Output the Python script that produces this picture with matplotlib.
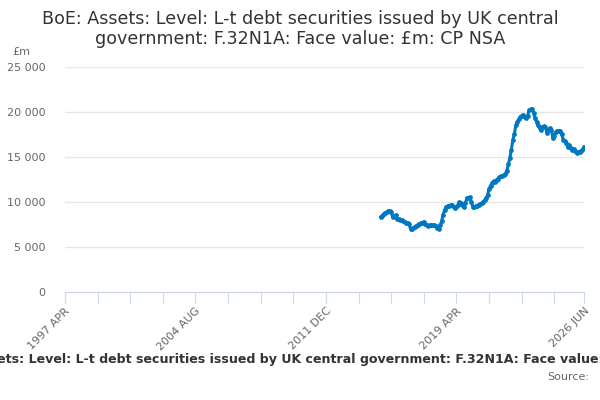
import numpy as np
import matplotlib.pyplot as plt

# monthly values, 2015 JAN .. 2026 JUN, £m
start_year = 2015
start_month = 1
values = [
    8360, 8500, 8700, 8800, 8900, 9000, 8950, 8900, 8300, 8400, 8550, 8150,
    8100, 8000, 7950, 7900, 7800, 7700, 7650, 7600, 7000, 7050, 7150, 7250,
    7350, 7500, 7550, 7650, 7700, 7800, 7600, 7400, 7350, 7400, 7450, 7430,
    7400, 7320, 7100, 7050, 7400, 7900, 8600, 9100, 9450, 9550, 9600, 9650,
    9670, 9500, 9300, 9400, 9700, 10000, 9900, 9700, 9480, 9900, 10400, 10500,
    10520, 10000, 9500, 9480, 9550, 9600, 9700, 9800, 9850, 10000, 10200, 10400,
    10800, 11500, 11800, 12100, 12300, 12250, 12450, 12600, 12750, 12850, 12900, 13000,
    13120, 13500, 14200, 14900, 15800, 16900, 17500, 18500, 18900, 19200, 19400, 19600,
    19700, 19400, 19350, 19600, 20200, 20300, 20300, 19900, 19300, 18900, 18500, 18200,
    18050, 18350, 18400, 18300, 17700, 18000, 18200, 18050, 17100, 17300, 17800, 17900,
    17900, 17850, 17500, 16900, 16750, 16500, 16150, 16350, 16000, 15750, 15850, 15700,
    15450, 15500, 15600, 15700, 15850, 16100,
]

# axis runs 1997 APR .. 2026 JUN
axis_start = (1997, 4)
axis_end = (2026, 6)
tick_step = 22
label_every = 4
y_ticks = [0, 5000, 10000, 15000, 20000, 25000]

title = "BoE: Assets: Level: L-t debt securities issued by UK central\ngovernment: F.32N1A: Face value: £m: CP NSA"
footer = "BoE: Assets: Level: L-t debt securities issued by UK central government: F.32N1A: Face value: £m: CP NSA"

months = ['JAN', 'FEB', 'MAR', 'APR', 'MAY', 'JUN', 'JUL', 'AUG', 'SEP', 'OCT', 'NOV', 'DEC']

def idx(y, m):
    return (y - axis_start[0]) * 12 + (m - axis_start[1])

def label(i):
    total = axis_start[0] * 12 + axis_start[1] - 1 + i
    return f"{total // 12} {months[total % 12]}"

x0 = idx(start_year, start_month)
x = np.arange(x0, x0 + len(values))
end = idx(*axis_end)

fig = plt.figure(figsize=(6, 4), dpi=100)
ax = fig.add_axes([65/600, 108/400, 519/600, 225/400])

ax.plot(x, values, color='#0077c0', lw=2.2, marker='o', ms=2.4, zorder=3)

ax.set_xlim(0, end)
ax.set_ylim(0, 25000)

ticks = list(range(0, end, tick_step)) + [end]
ax.set_xticks(ticks)
labs = []
for k, t in enumerate(ticks):
    if t == end or k % label_every == 0:
        labs.append(label(t))
    else:
        labs.append('')
ax.set_xticklabels(labs, rotation=45, ha='right', rotation_mode='anchor',
                   fontsize=8, color='#666666')
ax.tick_params(axis='x', length=8, color='#ccd6eb', pad=2)

ax.set_yticks(y_ticks)
ax.set_yticklabels([f"{v:,}".replace(',', ' ') for v in y_ticks], fontsize=8, color='#666666')
ax.tick_params(axis='y', length=0, pad=14)
ax.grid(axis='y', color='#e6e6e6', lw=1)
ax.set_axisbelow(True)

for s in ['top', 'right', 'left']:
    ax.spines[s].set_visible(False)
ax.spines['bottom'].set_color('#ccd6eb')

fig.text(12/600, 1 - 52/400, '£m', fontsize=8, color='#666666', va='center')
fig.text(0.5, 1 - 29/400, title, ha='center', va='center', fontsize=12.6,
         color='#333333', linespacing=1.15)
fig.text(0.5 + 14/600, 1 - 360/400, footer, ha='center', va='center', fontsize=9.1,
         fontweight='bold', color='#333333')
fig.text(589/600, 1 - 377/400, 'Source:', ha='right', va='center', fontsize=8,
         color='#666666')

fig.savefig('out.png', dpi=100)
